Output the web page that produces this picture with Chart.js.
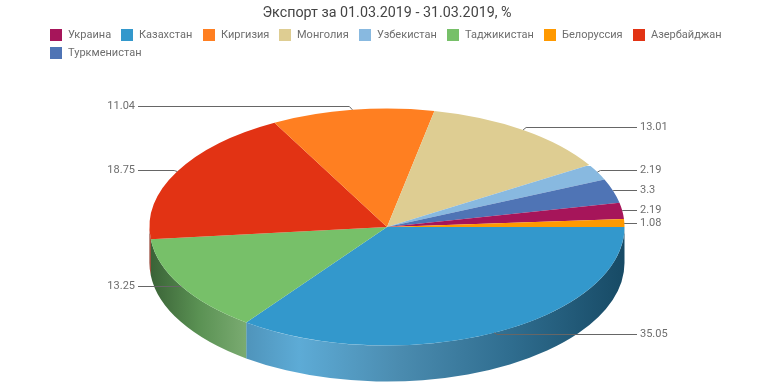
<!DOCTYPE html>
<html><head><meta charset="utf-8">
<style>html,body{margin:0;padding:0;background:#fff}canvas{display:block}</style>
<script src="https://cdn.jsdelivr.net/npm/chart.js@4"></script>
</head><body><canvas id="c" width="774" height="387"></canvas>
<script>
const titleText = 'Экспорт за 01.03.2019 - 31.03.2019, %';
const categories = ['Казахстан','Таджикистан','Азербайджан','Киргизия','Монголия','Узбекистан','Туркменистан','Украина','Белоруссия'];
const exportShare = [35.05,13.25,18.75,11.04,13.01,2.19,3.3,2.19,1.08];
const sliceColors = ['#3398cc','#77c069','#e23314','#ff7f21','#decd92','#88b9e0','#4f74b5','#a6155a','#ff9900'];
const legendOrder = ['Украина','Казахстан','Киргизия','Монголия','Узбекистан','Таджикистан','Белоруссия','Азербайджан','Туркменистан'];
const sideStops = {
  'Казахстан':[[0,'#4f94bb'],[0.14,'#5dabd6'],[0.4,'#4b8cb0'],[0.7,'#2f6d8f'],[1,'#174a65']],
  'Таджикистан':[[0,'#3a6337'],[0.5,'#5a9153'],[1,'#7aab71']],
  'Азербайджан':[[0,'#7d1e0c'],[1,'#8f2411']]
};
const FONT = 'Roboto, "Liberation Sans", sans-serif';
const geo = {cx:387, cy:227, rx:237.5, ry:118.5, depth:36};

const pie3d = {
  id:'pie3d',
  beforeDatasetsDraw(chart){
    const ctx = chart.ctx, arcs = chart.getDatasetMeta(0).data;
    arcs.forEach((arc,i)=>{
      const a1 = arc.startAngle, a2 = Math.min(arc.endAngle, Math.PI);
      if (a1 >= Math.PI) return;
      const x1 = geo.cx + geo.rx*Math.cos(a1), x2 = geo.cx + geo.rx*Math.cos(a2);
      const g = ctx.createLinearGradient(Math.min(x1,x2),0,Math.max(x1,x2),0);
      (sideStops[categories[i]]||[[0,sliceColors[i]],[1,sliceColors[i]]]).forEach(s=>g.addColorStop(s[0],s[1]));
      ctx.beginPath();
      ctx.ellipse(geo.cx,geo.cy,geo.rx,geo.ry,0,a1,a2);
      ctx.ellipse(geo.cx,geo.cy+geo.depth,geo.rx,geo.ry,0,a2,a1,true);
      ctx.closePath();
      ctx.fillStyle = g; ctx.fill();
    });
    const R = arcs[0].outerRadius;
    ctx.save();
    ctx.translate(geo.cx,geo.cy);
    ctx.scale(geo.rx/R,geo.ry/R);
    ctx.translate(-arcs[0].x,-arcs[0].y);
  },
  afterDatasetsDraw(chart){
    const ctx = chart.ctx;
    ctx.restore();
    const arcs = chart.getDatasetMeta(0).data;
    ctx.save();
    ctx.strokeStyle='#666'; ctx.lineWidth=1; ctx.fillStyle='#6e6e6e';
    ctx.font='11px '+FONT; ctx.textBaseline='middle';
    arcs.forEach((arc,i)=>{
      const m=(arc.startAngle+arc.endAngle)/2, c=Math.cos(m), s=Math.sin(m);
      const ax=geo.cx+geo.rx*c, ay=geo.cy+geo.ry*s;
      const ly=Math.round(ay+(s<0?4*s:2*s*s*s))+0.5;
      const right=c>0, ex=right?637:138;
      ctx.beginPath();
      ctx.moveTo(ax,ay);
      ctx.lineTo(ax+(right?3:-3)*(Math.abs(ay-ly)>1?1:0),ly);
      ctx.lineTo(ex,ly);
      ctx.stroke();
      ctx.textAlign=right?'left':'right';
      ctx.fillText(String(exportShare[i]),right?640:135,ly);
    });
    ctx.restore();
  },
  afterDraw(chart){
    const ctx=chart.ctx;
    ctx.save();
    ctx.font='11px '+FONT; ctx.textBaseline='middle'; ctx.textAlign='left';
    let x=50,y=29;
    legendOrder.forEach(name=>{
      const w=ctx.measureText(name).width;
      if (x+18+w>730){x=50;y+=18;}
      const bx=Math.round(x);
      ctx.fillStyle=sliceColors[categories.indexOf(name)];
      ctx.fillRect(bx,y,12,12);
      ctx.fillStyle='#6e6e6e';
      ctx.fillText(name,bx+18,y+6.5);
      x+=18+w+10.2;
    });
    ctx.restore();
  }
};

new Chart(document.getElementById('c'),{
  type:'pie',
  data:{labels:categories,datasets:[{data:exportShare,backgroundColor:sliceColors,borderWidth:0,clip:false}]},
  options:{
    responsive:false,animation:false,rotation:90,
    layout:{padding:{top:5,left:40,right:40,bottom:40}},
    plugins:{
      legend:{display:false},tooltip:{enabled:false},
      title:{display:true,text:titleText,color:'#444',font:{family:FONT,size:14.3,weight:'normal'},padding:{top:0,bottom:10}}
    }
  },
  plugins:[pie3d]
});
</script></body></html>
